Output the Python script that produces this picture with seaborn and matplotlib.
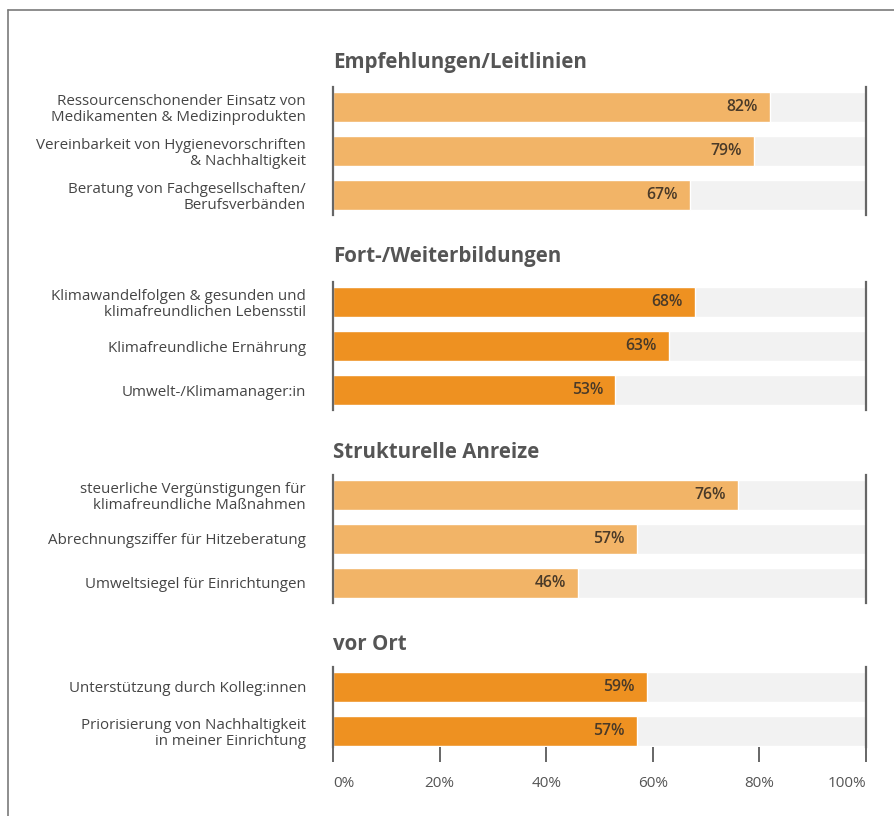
import matplotlib
matplotlib.use("Agg")
import matplotlib.pyplot as plt
from matplotlib.lines import Line2D
import pandas as pd
import seaborn as sns

sns.set_theme(style="white")
plt.rcParams["font.family"] = ["Open Sans", "DejaVu Sans"]

# --- data -------------------------------------------------------------
section_titles = [
    "Empfehlungen/Leitlinien",
    "Fort-/Weiterbildungen",
    "Strukturelle Anreize",
    "vor Ort",
]
labels_empfehlungen = [
    "Ressourcenschonender Einsatz von\nMedikamenten & Medizinprodukten",
    "Vereinbarkeit von Hygienevorschriften\n& Nachhaltigkeit",
    "Beratung von Fachgesellschaften/\nBerufsverbänden",
]
values_empfehlungen = [82, 79, 67]

labels_fortbildung = [
    "Klimawandelfolgen & gesunden und\nklimafreundlichen Lebensstil",
    "Klimafreundliche Ernährung",
    "Umwelt-/Klimamanager:in",
]
values_fortbildung = [68, 63, 53]

labels_anreize = [
    "steuerliche Vergünstigungen für\nklimafreundliche Maßnahmen",
    "Abrechnungsziffer für Hitzeberatung",
    "Umweltsiegel für Einrichtungen",
]
values_anreize = [76, 57, 46]

labels_vor_ort = [
    "Unterstützung durch Kolleg:innen",
    "Priorisierung von Nachhaltigkeit\nin meiner Einrichtung",
]
values_vor_ort = [59, 57]

x_ticks = [0, 20, 40, 60, 80, 100]
x_tick_labels = ["0%", "20%", "40%", "60%", "80%", "100%"]

# --- styling ------------------------------------------------------------
LIGHT = "#F2B467"
DARK = "#EE9121"
TRACK = "#F2F2F2"
AXIS = "#666666"
TEXT = "#454545"
TITLE = "#555555"
VALUE = "#4A3A28"

W, H = 895, 816
fig = plt.figure(figsize=(W / 100, H / 100), dpi=100)

sections = [
    (section_titles[0], labels_empfehlungen, values_empfehlungen, LIGHT, 107, 68),
    (section_titles[1], labels_fortbildung, values_fortbildung, DARK, 302, 262),
    (section_titles[2], labels_anreize, values_anreize, LIGHT, 495, 458),
    (section_titles[3], labels_vor_ort, values_vor_ort, DARK, 687, 650),
]

X0, X1 = 333, 866
STEP = 44          # pixel distance between bar centres
BAR_W = 30 / STEP  # bar thickness in category units

for k, (title, labels, values, color, c0, base) in enumerate(sections):
    n = len(labels)
    last = k == len(sections) - 1
    top_px = c0 - 20
    bot_px = c0 + (n - 1) * STEP + (16 if last else 20)
    ax = fig.add_axes([X0 / W, 1 - bot_px / H, (X1 - X0) / W, (bot_px - top_px) / H])

    df = pd.DataFrame({"label": labels, "value": values, "full": [100] * n})
    sns.barplot(data=df, x="full", y="label", color=TRACK, saturation=1,
                width=BAR_W, ax=ax, zorder=1)
    sns.barplot(data=df, x="value", y="label", color=color, saturation=1,
                width=BAR_W, ax=ax, zorder=2)

    for i, v in enumerate(values):
        ax.annotate(f"{v}%", xy=(v, i), xytext=(-9, 0), textcoords="offset points",
                    ha="right", va="center", fontsize=11.3, fontweight="semibold",
                    color=VALUE, zorder=3)

    ax.set_xlim(0, 100)
    ax.set_ylim((n - 1) + (16 if last else 20) / STEP, -20 / STEP)
    ax.set_xlabel("")
    ax.set_ylabel("")
    ax.set_facecolor("none")

    for side in ("top", "bottom"):
        ax.spines[side].set_visible(False)
    for side in ("left", "right"):
        ax.spines[side].set_visible(True)
        ax.spines[side].set_color(AXIS)
        ax.spines[side].set_linewidth(1.6)
        ax.spines[side].set_zorder(4)

    ax.tick_params(axis="y", length=0, pad=19.5, labelsize=10.9, labelcolor=TEXT)
    for t in ax.get_yticklabels():
        t.set_multialignment("right")
        t.set_linespacing(1.08)

    if last:
        ax.set_xticks(x_ticks)
        ax.set_xticklabels(x_tick_labels)
        ax.tick_params(axis="x", bottom=True, length=10.5, width=1.4, color=AXIS,
                       direction="out", pad=10.5, labelsize=11, labelcolor=TITLE)
        tl = ax.get_xticklabels()
        tl[0].set_horizontalalignment("left")
        tl[-1].set_horizontalalignment("right")
    else:
        ax.set_xticks([])

    fig.text(X0 / W, 1 - base / H, title, ha="left", va="baseline",
             fontsize=14.8, fontweight="bold", color=TITLE)

# page frame
fig.add_artist(Line2D([8 / W, 8 / W], [0, 1 - 10 / H], color="#7a7a7a", lw=1.2))
fig.add_artist(Line2D([8 / W, 1], [1 - 10 / H, 1 - 10 / H], color="#7a7a7a", lw=1.2))

fig.savefig("out.png", dpi=100)
